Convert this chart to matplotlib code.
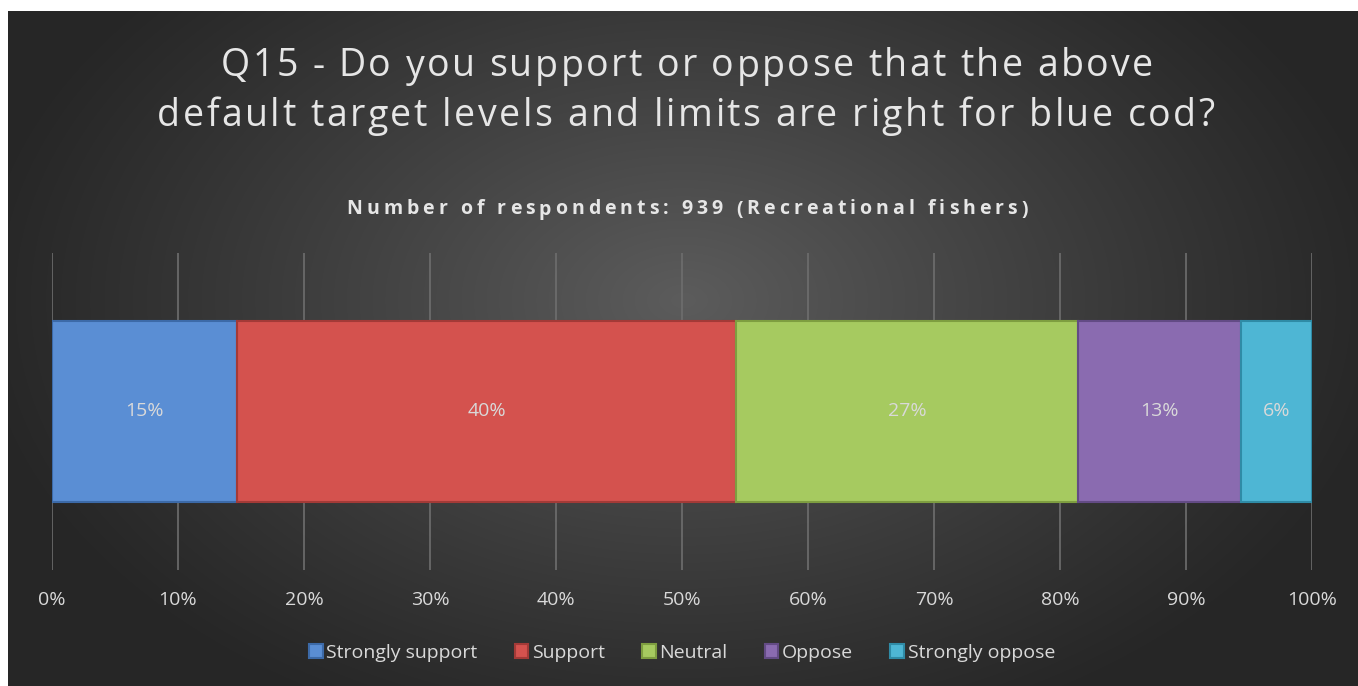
import matplotlib.pyplot as plt
import numpy as np

categories = ['Strongly support', 'Support', 'Neutral', 'Oppose', 'Strongly oppose']
shares = [14.7, 39.6, 27.1, 13.0, 5.6]
labels = ['15%', '40%', '27%', '13%', '6%']
colors = ['#5A8ED4', '#D4524E', '#A6CA60', '#8A6BB0', '#4EB6D4']
edges = ['#3C6AA8', '#A33A37', '#7E9E40', '#634B85', '#2F8BA6']
ticks = np.arange(0, 101, 10)

title_lines = ['Q15 - Do you support or oppose that the above',
               'default target levels and limits are right for blue cod?']
subtitle = 'Number of respondents: 939 (Recreational fishers)'

plt.rcParams['font.family'] = ['Open Sans', 'DejaVu Sans']
text_col = '#D9D9D9'

W, H = 1358, 686
fig = plt.figure(figsize=(W / 100, H / 100), dpi=100)
fig.patch.set_facecolor('white')

# dark radial background
bg = fig.add_axes([8 / W, 0, 1 - 8 / W, 1 - 11 / H])
py, px = np.mgrid[11:H, 8:W]
r = np.sqrt(((px - 683) / 720.0) ** 2 + ((py - 300) / 470.0) ** 2)
g = 38 + (92 - 38) * np.clip(1 - r, 0, 1) ** 1.1
img = np.dstack([g, g, g]) / 255.0
bg.imshow(img, aspect='auto', extent=[0, 1, 0, 1], interpolation='bilinear')
bg.axis('off')

ax = fig.add_axes([52 / W, 1 - 570 / H, 1260 / W, 317 / H])
ax.set_facecolor('none')

left = 0
for share, lab, c, e, name in zip(shares, labels, colors, edges, categories):
    ax.barh(0, share, left=left, height=0.571, color=c, edgecolor=e,
            linewidth=1.5, label=name, zorder=3)
    ax.text(left + share / 2, 0, lab, ha='center', va='center',
            color=text_col, fontsize=14, zorder=4)
    left += share

ax.set_xlim(0, 100)
ax.set_ylim(-0.5, 0.5)
ax.set_xticks(ticks)
ax.set_xticklabels([f'{t}%' for t in ticks], color=text_col, fontsize=14)
ax.set_yticks([])
ax.tick_params(axis='x', length=0, pad=15)
ax.grid(axis='x', color='#6E6E6E', linewidth=1.2, zorder=0)
for s in ax.spines.values():
    s.set_visible(False)

leg = ax.legend(loc='center', bbox_to_anchor=(0.5, -0.262), ncol=5,
                frameon=False, fontsize=14, handlelength=0.7,
                handleheight=0.7, handletextpad=0.2, columnspacing=1.9)
for t in leg.get_texts():
    t.set_color(text_col)

renderer = fig.canvas.get_renderer()


def text_width(s, **kw):
    t = fig.text(0, 0, s, **kw)
    w = t.get_window_extent(renderer).width
    t.remove()
    return w


def spaced_text(s, xc, yc, spacing, **kw):
    # letter-spaced line centred at pixel (xc, yc from top)
    bar_w = text_width('|', **kw)
    total = text_width(s, **kw) + spacing * (len(s) - 1)
    x0 = xc - total / 2
    for i, ch in enumerate(s):
        if ch == ' ':
            continue
        off = text_width(s[:i] + '|', **kw) - bar_w if i else 0
        fig.text((x0 + off + i * spacing) / W, 1 - yc / H, ch,
                 ha='left', va='center_baseline', **kw)


title_kw = dict(color='#E6E6E6', fontsize=27)
spaced_text(title_lines[0], 687, 62, 2.4, **title_kw)
spaced_text(title_lines[1], 686, 112, 2.5, **title_kw)
spaced_text(subtitle, 687, 207, 4.0, color='#E6E6E6', fontsize=14,
            fontweight='bold')

fig.savefig('out.png', dpi=100, facecolor=fig.get_facecolor())
